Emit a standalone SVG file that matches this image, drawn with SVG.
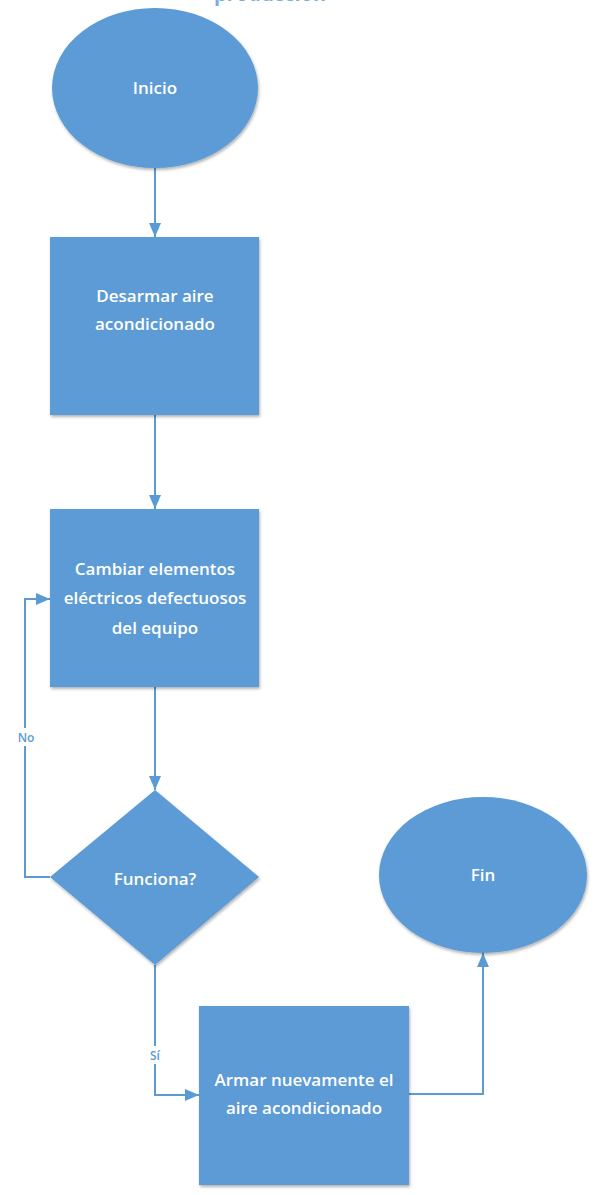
<svg xmlns="http://www.w3.org/2000/svg" width="597" height="1195" viewBox="0 0 597 1195">
<defs>
<marker id="ah" markerWidth="14" markerHeight="12" refX="14" refY="6" orient="auto" markerUnits="userSpaceOnUse">
<path d="M0,0 L14,6 L0,12 Z" fill="#5b9bd5"/>
</marker>
<filter id="sh" x="-10%" y="-10%" width="120%" height="120%">
<feDropShadow dx="1" dy="2" stdDeviation="1.5" flood-color="#000" flood-opacity="0.3"/>
</filter>
</defs>
<style>
.n{fill:#5b9bd5;filter:url(#sh);}
.t{fill:#fff;font-family:"Open Sans","Liberation Sans",sans-serif;font-size:17px;font-weight:600;text-anchor:middle;}
.c{fill:none;stroke:#5b9bd5;stroke-width:2;}
.l{fill:#5b9bd5;font-family:"Open Sans","Liberation Sans",sans-serif;font-size:12px;font-weight:600;text-anchor:middle;}
</style>
<rect width="597" height="1195" fill="#fff"/>
<text x="270" y="1" fill="#7aaee0" font-family="Open Sans, Liberation Sans, sans-serif" font-size="20" font-weight="bold" text-anchor="middle">producción</text>
<g id="connectors">
<path class="c" d="M155,168 L155,237" marker-end="url(#ah)"/>
<path class="c" d="M155,415 L155,509" marker-end="url(#ah)"/>
<path class="c" d="M155,687 L155,790" marker-end="url(#ah)"/>
<path class="c" d="M50,877 L25,877 L25,599 L50,599" marker-end="url(#ah)"/>
<path class="c" d="M155,965 L155,1095 L199,1095" marker-end="url(#ah)"/>
<path class="c" d="M409,1094 L483,1094 L483,953" marker-end="url(#ah)"/>
<rect x="14" y="728" width="24" height="18" fill="#fff"/>
<text class="l" x="26" y="742">No</text>
<rect x="146" y="1046" width="18" height="18" fill="#fff"/>
<text class="l" x="155" y="1060">Sí</text>
</g>
<g id="inicio">
<ellipse class="n" cx="155" cy="88" rx="103" ry="80"/>
<text class="t" x="155" y="94">Inicio</text>
</g>
<g id="desarmar">
<rect class="n" x="50" y="237" width="209" height="178"/>
<text class="t" x="155" y="302">Desarmar aire</text>
<text class="t" x="155" y="330">acondicionado</text>
</g>
<g id="cambiar">
<rect class="n" x="50" y="509" width="209" height="178"/>
<text class="t" x="155" y="575">Cambiar elementos</text>
<text class="t" x="155" y="604">eléctricos defectuosos</text>
<text class="t" x="155" y="634">del equipo</text>
</g>
<g id="funciona">
<path class="n" d="M155,790 L259,877 L155,965 L50,877 Z"/>
<text class="t" x="155" y="885">Funciona?</text>
</g>
<g id="armar">
<rect class="n" x="199" y="1006" width="210" height="179"/>
<text class="t" x="304" y="1086">Armar nuevamente el</text>
<text class="t" x="304" y="1114">aire acondicionado</text>
</g>
<g id="fin">
<ellipse class="n" cx="483" cy="875" rx="104" ry="78"/>
<text class="t" x="483" y="881">Fin</text>
</g>
</svg>
